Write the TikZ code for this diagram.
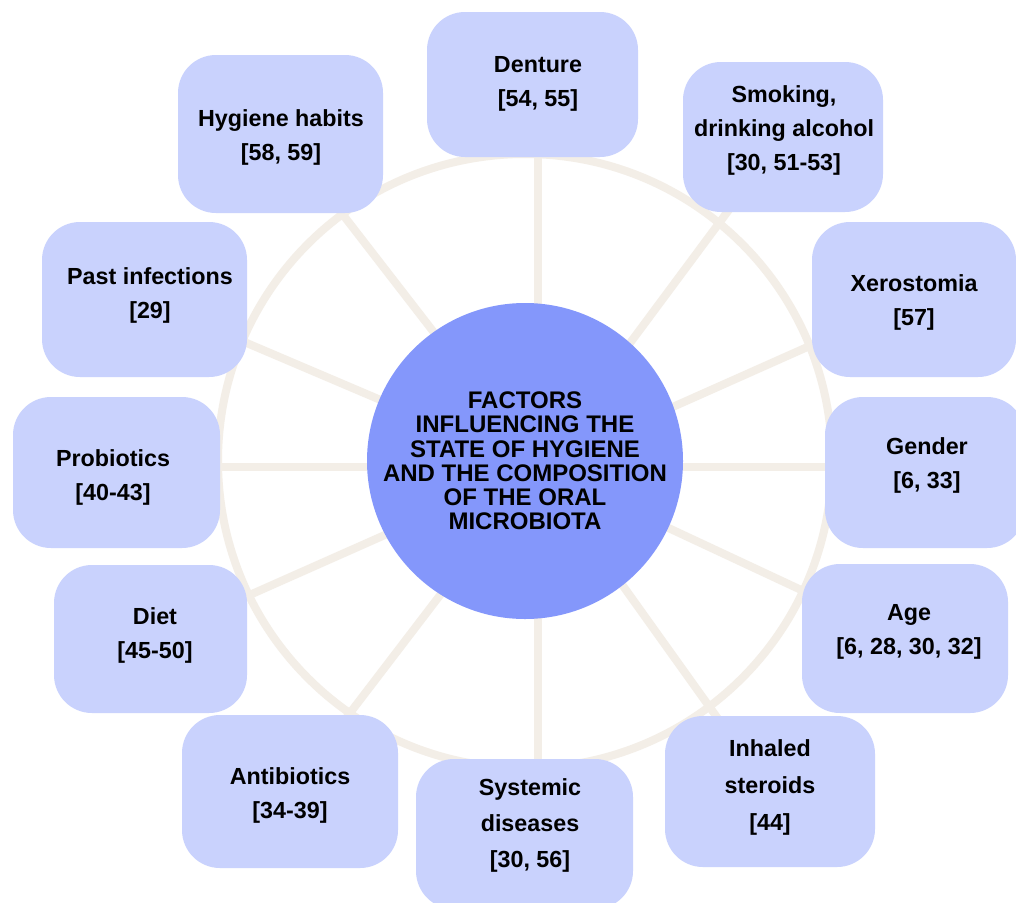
\documentclass[tikz,border=0pt]{standalone}
\usepackage{fontspec}
\setmainfont{Liberation Sans}
\definecolor{boxc}{HTML}{C9D2FD}
\definecolor{circc}{HTML}{8497FB}
\definecolor{ringc}{HTML}{F3EEE7}
\pgfdeclarelayer{bg}
\pgfsetlayers{bg,main}
\begin{document}
\begin{tikzpicture}[x=1pt,y=-1pt,
 fbox/.style={fill=boxc, draw=none, rounded corners=38pt, inner sep=0},
 ftext/.style={font=\fontsize{23.3}{34}\selectfont\bfseries, align=center, inner sep=0, text=black},
 spoke/.style={draw=ringc, line width=8pt},
 ringline/.style={draw=ringc, line width=8pt},
 hubcirc/.style={circle, fill=circc, draw=none, minimum size=316pt, inner sep=0,
   font=\fontsize{24}{24.2}\selectfont\bfseries, align=center},
]
\useasboundingbox (0,0) rectangle (1016,902);
\coordinate (o) at (525,461);
\coordinate (hub) at (538,467);

% boxes
\node[fbox, minimum width=211pt, minimum height=145pt] (den) at (532.5,84.5) {};
\node[fbox, minimum width=200pt, minimum height=150pt] (smk) at (783,137) {};
\node[fbox, minimum width=205pt, minimum height=158pt] (hyg) at (280.5,134) {};
\node[fbox, minimum width=205pt, minimum height=155pt] (past) at (144.5,299.5) {};
\node[fbox, minimum width=204pt, minimum height=155pt] (xer) at (914,299.5) {};
\node[fbox, minimum width=207pt, minimum height=151pt] (prob) at (116.5,472.5) {};
\node[fbox, minimum width=200pt, minimum height=151pt] (gen) at (925,472.5) {};
\node[fbox, minimum width=193pt, minimum height=148pt] (diet) at (150.5,639) {};
\node[fbox, minimum width=206pt, minimum height=149pt] (age) at (905,638.5) {};
\node[fbox, minimum width=216pt, minimum height=153pt] (anti) at (290,791.5) {};
\node[fbox, minimum width=217pt, minimum height=150pt] (sys) at (524.5,834) {};
\node[fbox, minimum width=210pt, minimum height=151pt] (inh) at (770,791.5) {};

% background, ring and spokes
\begin{pgfonlayer}{bg}
\fill[white] (0,0) rectangle (1016,902);
\draw[ringline] (o) circle[radius=307];
\foreach \b in {smk,hyg,past,xer,diet,age,anti,inh}
  \draw[spoke] (hub) -- (\b.center);
\draw[spoke] (hub) -- (hub |- den.center);
\draw[spoke] (hub) -- (hub |- sys.center);
\draw[spoke] (hub) -- (hub -| prob.center);
\draw[spoke] (hub) -- (hub -| gen.center);
\end{pgfonlayer}

% central circle
\node[hubcirc] (cc) at (o) {FACTORS\\INFLUENCING THE\\STATE OF HYGIENE\\AND THE COMPOSITION\\OF THE ORAL\\MICROBIOTA};

% texts
\node[ftext] (den-t) at (538,84) {Denture\\{[54, 55]}};
\node[ftext] (smk-t) at (784,130) {Smoking,\\drinking alcohol\\{[30, 51-53]}};
\node[ftext] (hyg-t) at (281,137) {Hygiene habits\\{[58, 59]}};
\node[ftext] (past-t) at (150,295) {Past infections\\{[29]}};
\node[ftext] (xer-t) at (914,302) {Xerostomia\\{[57]}};
\node[ftext] (prob-t) at (113,477) {Probiotics\\{[40-43]}};
\node[ftext] (gen-t) at (927,465) {Gender\\{[6, 33]}};
\node[ftext] (diet-t) at (155,635) {Diet\\{[45-50]}};
\node[ftext] (age-t) at (909,632) {Age\\{[6, 28, 30, 32]}};
\node[ftext] (anti-t) at (290,795) {Antibiotics\\{[34-39]}};
\node[ftext, font=\fontsize{23.3}{36}\selectfont\bfseries] (sys-t) at (530,825) {Systemic\\diseases\\{[30, 56]}};
\node[ftext, font=\fontsize{23.3}{37}\selectfont\bfseries] (inh-t) at (770,787) {Inhaled\\steroids\\{[44]}};
\end{tikzpicture}
\end{document}
